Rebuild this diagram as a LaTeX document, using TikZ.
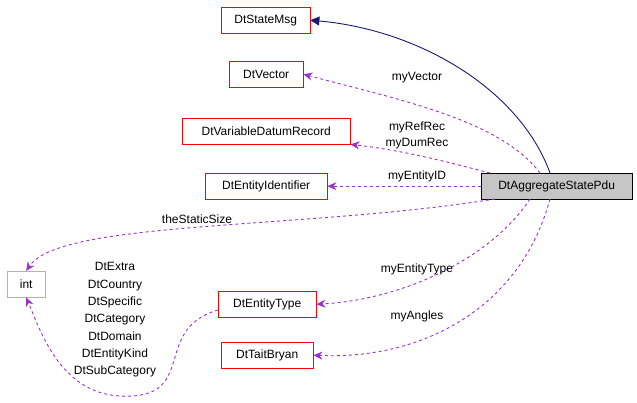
\documentclass[tikz,border=0pt]{standalone}
\usepackage{fontspec}
\setmainfont{Liberation Sans}
\usetikzlibrary{arrows.meta}
\definecolor{dep}{RGB}{154,50,205}
\definecolor{inh}{RGB}{25,25,112}
\begin{document}
\begin{tikzpicture}[x=1pt,y=-1pt,
  box/.style={draw=red,fill=white,minimum height=26,inner xsep=4,font=\fontsize{12}{14}\selectfont,anchor=north west},
  dep/.style={draw=dep,dashed,line width=0.9pt,-{Stealth[length=9,width=8]}},
  lbl/.style={font=\fontsize{12}{14}\selectfont,align=center}]
\useasboundingbox (0,0) rectangle (637,403);
\node[box,minimum width=89] (sm) at (221,7) {DtStateMsg};
\node[box,minimum width=74] (vec) at (229,61) {DtVector};
\node[box,minimum width=168] (vdr) at (182,118) {DtVariableDatumRecord};
\node[box,minimum width=122] (eid) at (205,173) {DtEntityIdentifier};
\node[box,draw=black,fill=gray!45,minimum width=151] (pdu) at (481,173) {DtAggregateStatePdu};
\node[box,draw=gray!60,minimum width=38] (int) at (7,271) {int};
\node[box,minimum width=98] (et) at (218,291) {DtEntityType};
\node[box,minimum width=92] (tb) at (221,342) {DtTaitBryan};
\draw[draw=inh,line width=0.9pt,-{Triangle[length=9,width=9]}] (550,173) .. controls (520,90) and (420,30) .. (sm.east);
\draw[dep] (540,173) .. controls (500,120) and (400,100) .. (vec.east);
\draw[dep] (490,173) .. controls (440,160) and (400,150) .. (vdr.south east);
\draw[dep] (pdu.west) -- (eid.east);
\draw[dep] (495,199) .. controls (300,230) and (60,220) .. (int.north);
\draw[dep] (530,199) .. controls (490,260) and (400,300) .. (et.east);
\draw[dep] (550,199) .. controls (520,310) and (420,360) .. (tb.east);
\draw[dep] (218,310) .. controls (150,330) and (200,400) .. (120,396) .. controls (60,393) and (40,330) .. (int.south);
\node[lbl] (l1) at (417,78) {myVector};
\node[lbl,font=\fontsize{12}{16}\selectfont] (l2) at (417,135) {myRefRec\\myDumRec};
\node[lbl] (l3) at (417,176) {myEntityID};
\node[lbl] (l4) at (197,219) {theStaticSize};
\node[lbl] (l5) at (417,269) {myEntityType};
\node[lbl] (l6) at (417,316) {myAngles};
\node[lbl,font=\fontsize{12}{17.3}\selectfont] (l7) at (115,320) {DtExtra\\DtCountry\\DtSpecific\\DtCategory\\DtDomain\\DtEntityKind\\DtSubCategory};
\end{tikzpicture}
\end{document}
